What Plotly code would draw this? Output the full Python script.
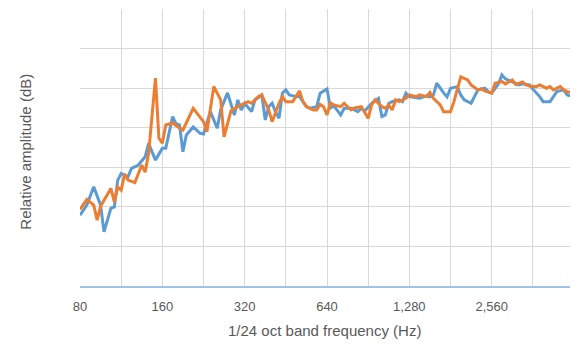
import plotly.graph_objects as go

# 1/24-octave band indices (0 = 80 Hz) and relative level (dB)
blue_band = [0, 2, 4, 6, 7, 9, 10, 11, 12, 14, 15, 17, 19, 20, 22, 24, 25, 27, 28, 29, 30, 31, 33, 35, 36, 38,
             40, 41, 43, 45, 46, 47, 48, 50, 51, 53, 54, 55, 56, 57, 58, 59, 60, 61, 63, 64, 66, 67, 69, 70,
             72, 73, 74, 76, 77, 79, 81, 82, 83, 85, 87, 88, 89, 90, 91, 93, 94, 95, 96, 97, 99, 101, 102, 103,
             104, 106, 107, 108, 110, 111, 112, 114, 115, 116, 118, 119, 120, 122, 123, 124, 126, 128, 129, 131,
             132, 134, 135, 137, 138, 139, 141, 142, 144]
blue_db = [8.95, 10.22, 12.53, 10.22, 6.84, 9.80, 10.00, 13.38, 14.23, 13.80, 14.86, 15.28, 16.33, 18.03, 15.91,
           17.39, 17.39, 21.40, 20.47, 20.34, 16.96, 19.08, 20.09, 19.29, 19.20, 22.03,
           19.93, 22.24, 24.40, 21.61, 23.51, 22.24, 23.09, 22.03, 23.51, 24.14, 20.98, 22.66, 23.09, 22.00,
           21.20, 24.36, 24.78, 24.14, 23.93, 23.93, 22.66, 22.46, 22.66, 24.36,
           24.90, 22.50, 22.75, 21.61, 22.46, 22.46, 22.03, 22.46, 22.12, 23.09, 23.72, 21.40, 21.61, 23.09,
           23.29, 23.51, 23.29, 24.36, 23.93, 23.89, 23.72, 24.02, 23.89, 24.10,
           25.62, 24.40, 23.89, 24.99, 25.19, 24.14, 23.51, 23.09, 23.93, 24.78, 24.99, 24.56, 24.36, 25.54,
           26.67, 26.17, 25.79, 25.41, 25.54, 25.41,
           24.90, 23.93, 23.29, 23.29, 23.93, 24.56, 24.78, 24.14, 23.93]

orange_band = [0, 2, 4, 5, 6, 9, 10, 11, 12, 13, 14, 16, 18, 19, 20, 22, 23, 24, 25, 27, 29, 30, 33, 35, 36, 37,
               39, 41, 42, 44, 46, 49, 50, 52, 53, 55, 56, 58, 59, 60, 62, 64, 65, 66, 68, 69, 70, 71, 72, 73,
               74, 76, 77, 79, 80, 82, 83, 84, 85, 86, 88, 89, 90, 91, 92, 93, 95, 96, 98, 99, 101, 102, 103,
               105, 106, 108, 109, 111, 113, 114, 116, 117, 118, 120, 121, 123, 124, 126, 127, 129, 130, 131,
               133, 134, 136, 137, 138, 140, 141, 142, 144]
orange_db = [9.67, 10.94, 10.22, 8.32, 10.09, 12.33, 10.63, 12.50, 12.12, 14.14, 13.38, 13.07, 15.28, 14.39,
             16.76, 26.26, 18.70, 18.03, 20.34, 20.60, 19.97, 19.71, 22.46, 21.40, 20.76, 19.50,
             25.22, 23.51, 18.86, 22.12, 22.66, 23.29, 23.09, 23.93, 24.14, 22.24, 20.76, 23.09, 23.93, 23.29,
             23.29, 24.65, 23.26, 22.66, 22.24, 22.24, 22.94, 22.66, 21.61, 23.13,
             22.88, 22.66, 23.09, 22.24, 22.50, 22.66, 21.83, 21.19, 22.88, 23.51, 22.66, 22.46, 22.88, 22.24,
             23.51, 23.29, 23.72, 24.14, 23.93, 24.14, 23.93, 24.46, 23.72,
             22.88, 22.03, 22.03, 23.29, 26.42, 26.04, 25.41, 24.78, 24.90, 24.65, 24.36, 25.62, 25.83, 25.54,
             26.04, 25.47, 25.79, 25.41, 25.28,
             25.19, 25.41, 24.99, 25.19, 24.78, 25.19, 24.78, 24.56, 24.36]

tick_labels = ["80", "", "160", "", "320", "", "640", "", "1,280", "", "2,560", "", ""]
f_start = 80.0

def band_to_hz(bands):
    return [f_start * 2 ** (b / 24) for b in bands]

tick_vals = [f_start * 2 ** (k / 2) for k in range(len(tick_labels))]

fig = go.Figure()
fig.add_trace(go.Scatter(x=band_to_hz(blue_band), y=blue_db, mode="lines",
                         line=dict(color="#5b9bd5", width=3), showlegend=False))
fig.add_trace(go.Scatter(x=band_to_hz(orange_band), y=orange_db, mode="lines",
                         line=dict(color="#ed7d31", width=3), showlegend=False))

font_family = "Liberation Sans, Arial, sans-serif"
# the page body adds an 8 px offset, so the figure is sized 570x336
fig.update_layout(
    width=570, height=336,
    margin=dict(l=72, r=4, t=1, b=58, autoexpand=False),
    paper_bgcolor="white", plot_bgcolor="white",
    font=dict(family=font_family, size=13, color="#595959"),
    xaxis=dict(type="log", range=[1.90309, 3.70927],
               tickmode="array", tickvals=tick_vals, ticktext=tick_labels,
               showgrid=True, gridcolor="#d9d9d9", gridwidth=1,
               zeroline=False, showline=True, linecolor="#9dc3e6", linewidth=1.5,
               ticks="", ticklabelstandoff=8, automargin=False,
               tickfont=dict(size=13, color="#595959")),
    yaxis=dict(range=[0, 35], dtick=5, showticklabels=False,
               showgrid=True, gridcolor="#d9d9d9", gridwidth=1,
               zeroline=False, showline=False, automargin=False),
    annotations=[
        dict(text="1/24 oct band frequency (Hz)", xref="paper", yref="paper",
             x=0.495, y=-0.160, xanchor="center", yanchor="middle", showarrow=False,
             font=dict(size=15, color="#595959")),
        dict(text="Relative amplitude (dB)", xref="paper", yref="paper",
             x=-0.111, y=0.4855, xanchor="center", yanchor="middle", showarrow=False,
             textangle=-90, font=dict(size=15, color="#595959")),
    ],
)

fig.write_html("out.html")
